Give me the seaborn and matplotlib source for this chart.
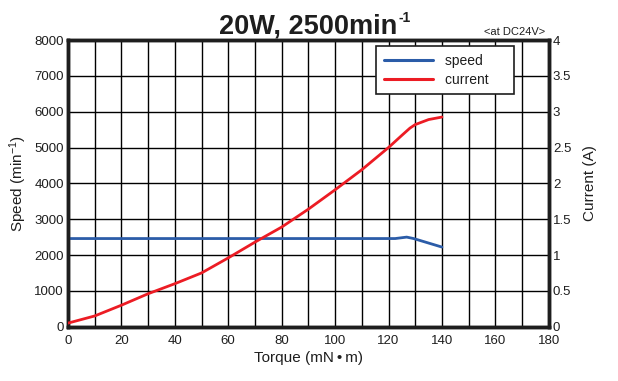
import matplotlib
matplotlib.use("Agg")
import matplotlib.pyplot as plt
import pandas as pd
import seaborn as sns
from matplotlib.lines import Line2D
from matplotlib.ticker import MultipleLocator

# values
speed_torque = [0, 20, 40, 60, 80, 100, 120, 122.5, 126.8, 129.4, 140]
speed_rpm = [2460, 2460, 2460, 2460, 2460, 2460, 2460, 2460, 2500, 2460, 2222]

current_torque = [0, 10, 20, 30, 40, 50, 60, 70, 80, 90, 100, 110, 120, 125, 128, 130, 135, 140]
current_amp = [0.05, 0.15, 0.30, 0.46, 0.60, 0.75, 0.96, 1.18, 1.39, 1.64, 1.91, 2.19, 2.50,
               2.67, 2.77, 2.82, 2.89, 2.925]

x_ticks = [0, 20, 40, 60, 80, 100, 120, 140, 160, 180]
speed_ticks = [0, 1000, 2000, 3000, 4000, 5000, 6000, 7000, 8000]
current_ticks = [0, 0.5, 1, 1.5, 2, 2.5, 3, 3.5, 4]
current_labels = ["0", "0.5", "1", "1.5", "2", "2.5", "3", "3.5", "4"]

BLUE = "#2b5ca8"
RED = "#ec1c24"
INK = "#1e1e1e"


def main() -> None:
    sns.set_style("white")
    plt.rcParams["font.family"] = ["Liberation Sans", "DejaVu Sans"]
    plt.rcParams["mathtext.fontset"] = "custom"
    plt.rcParams["mathtext.rm"] = "Liberation Sans"
    plt.rcParams["mathtext.it"] = "Liberation Sans:italic"
    plt.rcParams["mathtext.bf"] = "Liberation Sans:bold"

    speed_df = pd.DataFrame({"torque": speed_torque, "speed": speed_rpm})
    current_df = pd.DataFrame({"torque": current_torque, "current": current_amp})

    fig = plt.figure(figsize=(6.18, 3.81), dpi=100)
    ax = fig.add_axes([0.110, 0.1425, 0.778, 0.7525])
    ax2 = ax.twinx()

    sns.lineplot(data=speed_df, x="torque", y="speed", ax=ax, color=BLUE, lw=2, zorder=5)
    sns.lineplot(data=current_df, x="torque", y="current", ax=ax2, color=RED, lw=2, zorder=5)

    ax.set_xlim(0, 180)
    ax.set_ylim(0, 8000)
    ax2.set_ylim(0, 4)
    ax.set_xticks(x_ticks)
    ax.set_yticks(speed_ticks)
    ax2.set_yticks(current_ticks)
    ax2.set_yticklabels(current_labels)
    ax.xaxis.set_minor_locator(MultipleLocator(10))

    ax.grid(True, which="both", axis="x", color="black", lw=1)
    ax.grid(True, which="major", axis="y", color="black", lw=1)
    ax.set_axisbelow(True)

    for a in (ax, ax2):
        a.tick_params(axis="both", which="both", length=0, labelsize=9.5, pad=3,
                      labelcolor=INK)
        for s in a.spines.values():
            s.set_linewidth(2.5)
            s.set_color(INK)
    ax.tick_params(axis="x", pad=6)

    ax.set_xlabel("Torque (mN\u2009\u2022\u2009m)", fontsize=11, labelpad=3, color=INK)
    ax.set_ylabel("Speed (min$^{-1}$)", fontsize=11, labelpad=4, color=INK)
    ax2.set_ylabel("Current (A)", fontsize=11, labelpad=8, color=INK)

    # title with a small raised "-1"
    title = fig.text(0.499, 0.913, "20W, 2500min", ha="center", va="baseline",
                     fontsize=19.5, fontweight="bold", color=INK)
    fig.canvas.draw()
    tb = title.get_window_extent().transformed(fig.transFigure.inverted())
    fig.text(tb.x1 + 0.002, 0.913 + 0.030, "-1", ha="left", va="baseline",
             fontsize=10, fontweight="bold", color=INK)
    fig.text(0.882, 0.909, "<at DC24V>", ha="right", va="baseline", fontsize=8,
             color=INK)

    handles = [Line2D([0], [0], color=BLUE, lw=2.2), Line2D([0], [0], color=RED, lw=2.2)]
    leg = ax2.legend(handles, ["speed      ", "current    "], loc="upper right",
                     bbox_to_anchor=(0.927, 0.979), frameon=True, fancybox=False,
                     fontsize=10, handlelength=3.5, borderpad=0.55, handletextpad=0.9,
                     labelspacing=0.35, borderaxespad=0)
    for t in leg.get_texts():
        t.set_color(INK)
    leg.get_frame().set_edgecolor(INK)
    leg.get_frame().set_linewidth(1.2)
    leg.get_frame().set_alpha(1)

    fig.savefig("out.png", dpi=100)
    plt.close(fig)


if __name__ == "__main__":
    main()
